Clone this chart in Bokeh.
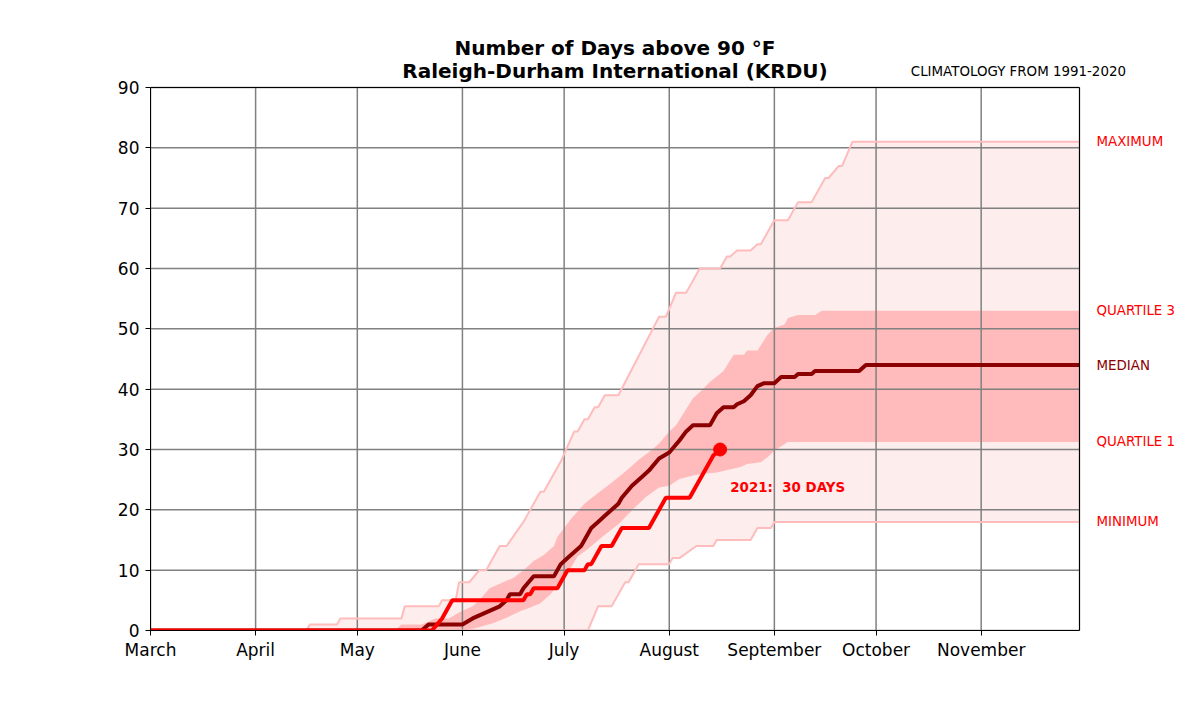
from bokeh.plotting import figure
from bokeh.models import Range1d, FixedTicker, Label
from bokeh.embed import file_html
from bokeh.resources import INLINE

# ---------------- data (x = days since March 1) ----------------
month_ticks = [0, 31, 61, 92, 122, 153, 184, 214, 245]
month_labels = ["March", "April", "May", "June", "July", "August",
                "September", "October", "November"]

max_days = [0, 46, 47, 55, 56, 74, 75, 85, 86, 90, 91, 94, 97, 99, 103, 105, 110, 111,
            115, 116, 121, 125, 126, 128, 129, 131, 132, 134, 138, 150, 152, 155, 158,
            162, 168, 170, 171, 173, 177, 179, 180, 183, 184, 188, 191, 195, 199, 200,
            203, 204, 207, 274]
max_vals = [0, 0, 1, 1, 2, 2, 4, 4, 5, 5, 8, 8, 10, 10, 14, 14, 18, 19,
            23, 23, 28, 33, 33, 35, 35, 37, 37, 39, 39, 52, 52, 56, 56,
            60, 60, 62, 62, 63, 63, 64, 64, 67, 68, 68, 71, 71, 75, 75,
            77, 77, 81, 81]

min_days = [0, 129, 132, 136, 139, 140, 141, 144, 153, 154, 156, 161, 166, 167, 177,
            179, 183, 184, 274]
min_vals = [0, 0, 4, 4, 7, 8, 8, 11, 11, 12, 12, 14, 14, 15, 15,
            17, 17, 18, 18]

q3_days = [0, 72, 74, 80, 84, 88, 91, 95, 97, 100, 104, 107, 110, 113, 116, 119, 120,
           122, 124, 128, 132, 136, 140, 144, 148, 150, 153, 155, 160, 162, 165, 169,
           172, 175, 176, 179, 182, 184, 187, 188, 191, 196, 198, 274]
q3_vals = [0, 0, 1, 1, 2, 2, 3, 4, 5, 7, 8, 8.7, 10, 11.5, 12.5, 14, 15.5,
           17, 18.5, 21, 22.8, 24.5, 26.3, 28.3, 30, 31, 33, 34, 38.5, 39.5, 41.2, 43,
           45.7, 45.7, 46.4, 46.4, 49, 50.2, 50.7, 51.8, 52.3, 52.3, 53, 53]

q1_days = [0, 92, 96, 101, 105, 109, 112, 115, 118, 120, 122, 124, 126, 129, 133, 138,
           142, 146, 150, 153, 156, 160, 163, 167, 174, 176, 180, 182, 184, 188, 274]
q1_vals = [0, 0, 0.4, 1.2, 2.1, 3.2, 3.8, 4.5, 6, 7.5, 8.8, 10.4, 12.3, 13.5, 15.4, 17.6,
           19.9, 22.1, 23.7, 24, 25.1, 25.7, 26, 26.2, 27.1, 27.6, 27.9, 28.7, 29.8, 31.25, 31.25]

med_days = [0, 80, 82, 92, 95, 99, 103, 105, 106, 109, 110, 113, 119, 121, 123, 125, 127,
            130, 132, 134, 136, 138, 139, 142, 144, 145, 147, 150, 153, 156, 158, 160,
            165, 167, 169, 172, 173, 175, 177, 179, 181, 184, 186, 190, 191, 195, 196,
            209, 211, 274]
med_vals = [0, 0, 1, 1, 2, 3, 4, 5, 6, 6, 7, 9, 9, 11, 12, 13, 14,
            17, 18, 19, 20, 21, 22, 24, 25, 25.5, 26.5, 28.5, 29.5, 31.5, 33, 34,
            34, 36, 37, 37, 37.5, 38, 39, 40.5, 41, 41, 42, 42, 42.5, 42.5, 43,
            43, 44, 44]

y2021_days = [0, 83, 86, 89, 110, 111, 112, 113, 120, 123, 128, 129, 130, 133, 136, 139,
              147, 152, 159, 166, 168]
y2021_vals = [0, 0, 2, 5, 5, 6, 6, 7, 7, 10, 10, 11, 11, 14, 14, 17,
              17, 22, 22, 29, 30]

y_ticks = [0, 10, 20, 30, 40, 50, 60, 70, 80, 90]

X_END = 274      # Nov 30
Y_END = 90

# ---------------- figure ----------------
# The frame is extended up and to the right so that title and side labels
# (which are clipped to the frame) can be drawn as data-space labels.
FRAME_W = 1050
FRAME_H = 630
DATA_W = 929
DATA_H = 543
p = figure(width=1200, height=720, output_backend="svg", toolbar_location=None,
           x_range=Range1d(0, X_END * FRAME_W / DATA_W),
           y_range=Range1d(0, Y_END * FRAME_H / DATA_H),
           min_border_left=150, min_border_right=0, min_border_top=0,
           min_border_bottom=90)
p.background_fill_color = "white"
p.border_fill_color = "white"
p.outline_line_color = None

FONT = "DejaVu Sans"

for ax in (p.xaxis[0], p.yaxis[0]):
    ax.axis_line_color = "black"
    ax.axis_line_width = 1
    ax.major_tick_line_color = "black"
    ax.major_tick_out = 5
    ax.major_tick_in = 0
    ax.minor_tick_line_color = None
    ax.major_label_text_font = FONT
    ax.major_label_text_font_size = "17px"
    ax.major_label_text_color = "black"

p.xaxis.ticker = FixedTicker(ticks=month_ticks)
p.xaxis.major_label_overrides = {t: l for t, l in zip(month_ticks, month_labels)}
p.xaxis.major_label_standoff = 4
p.xaxis.bounds = (0, X_END)
p.yaxis.ticker = FixedTicker(ticks=y_ticks)
p.yaxis.major_label_standoff = 6
p.yaxis.bounds = (0, Y_END)

p.grid.grid_line_color = None

# bands
p.patch(max_days + min_days[::-1], max_vals + min_vals[::-1],
        fill_color="#FDEDED", line_color=None, level="image")
p.patch(q3_days + q1_days[::-1], q3_vals + q1_vals[::-1],
        fill_color="#FFBBBB", line_color=None, level="image")

# grid lines limited to the data area
p.segment(x0=month_ticks, y0=[0] * len(month_ticks), x1=month_ticks,
          y1=[Y_END] * len(month_ticks), line_color="#808080", line_width=1.5,
          level="underlay")
p.segment(x0=[0] * len(y_ticks), y0=y_ticks, x1=[X_END] * len(y_ticks), y1=y_ticks,
          line_color="#808080", line_width=1.5, level="underlay")

# extremes
p.line(max_days, max_vals, line_color="#FFBCBC", line_width=2)
p.line(min_days, min_vals, line_color="#FFBCBC", line_width=2)

# median and current year
p.line(med_days, med_vals, line_color="#8B0000", line_width=4)
p.line(y2021_days, y2021_vals, line_color="#FF0000", line_width=4)
p.scatter([y2021_days[-1]], [y2021_vals[-1]], size=13, fill_color="#FF0000",
          line_color="#FF0000")

# frame border (top and right edges) of the data area
p.multi_line(xs=[[0, X_END], [X_END, X_END]], ys=[[Y_END, Y_END], [0, Y_END]],
             line_color="black", line_width=1.2, level="overlay")

# annotations
SMALL = "13.4px"
p.add_layout(Label(x=y2021_days[-1] + 3, y=y2021_vals[-1] - 6.3,
                   text="2021:\u00a0 %d DAYS" % y2021_vals[-1],
                   text_font=FONT, text_font_size=SMALL, text_font_style="bold",
                   text_color="#FF0000", text_baseline="middle", text_align="left"))

right_x = X_END + 5
for txt, val, col in [("MAXIMUM", max_vals[-1], "#FF0000"),
                      ("QUARTILE 3", q3_vals[-1], "#FF0000"),
                      ("MEDIAN", med_vals[-1], "#8B0000"),
                      ("QUARTILE 1", q1_vals[-1], "#FF0000"),
                      ("MINIMUM", min_vals[-1], "#FF0000")]:
    p.add_layout(Label(x=right_x, y=val, text=txt, text_font=FONT,
                       text_font_size=SMALL, text_color=col,
                       text_baseline="middle", text_align="left"))

p.add_layout(Label(x=X_END / 2, y=96.6, text="Number of Days above 90 °F", text_font=FONT,
                   text_font_size="20px", text_font_style="bold", text_color="black",
                   text_baseline="middle", text_align="center"))
p.add_layout(Label(x=X_END / 2, y=92.8, text="Raleigh-Durham International (KRDU)",
                   text_font=FONT, text_font_size="20px", text_font_style="bold",
                   text_color="black", text_baseline="middle", text_align="center"))
p.add_layout(Label(x=287.7, y=92.7, text="CLIMATOLOGY FROM 1991-2020", text_font=FONT,
                   text_font_size=SMALL, text_color="black",
                   text_baseline="middle", text_align="right"))

open("out.html", "w").write(file_html(p, INLINE))
